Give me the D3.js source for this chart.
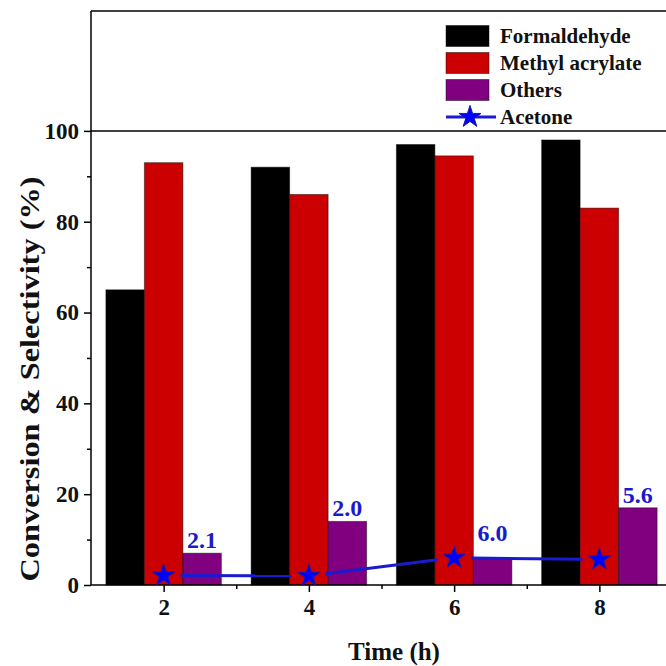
<!DOCTYPE html>
<html lang="en">
<head>
    <meta charset="UTF-8">
    <title>Conversion & Selectivity</title>
    <style>
        body { margin: 0; background: #fff; }
        svg text { font-family: "Liberation Serif", "Times New Roman", serif; font-weight: bold; }
    </style>
</head>
<body>
    <div id="chart"></div>

    <script src="https://d3js.org/d3.v7.min.js"></script>
    <script type="text/javascript">
// data
const times = [2, 4, 6, 8];
const formaldehyde = [65, 92, 97, 98];
const methylAcrylate = [93, 86, 94.5, 83];
const others = [7, 14, 6, 17];
const acetone = [2.1, 2.0, 6.0, 5.6];
const acetoneLabels = ["2.1", "2.0", "6.0", "5.6"];
const seriesNames = ["Formaldehyde", "Methyl acrylate", "Others", "Acetone"];
const seriesColors = ["#000000", "#cc0000", "#800080", "#0000ff"];
const yTicks = [0, 20, 40, 60, 80, 100];
const yMinorTicks = [10, 30, 50, 70, 90];
const xMinorTicks = [3, 5, 7];

const W = 666, H = 666;
const plotLeft = 91, plotRight = 672, plotTop = 11, plotBottom = 585;

const svg = d3.select("#chart")
    .append("svg")
    .attr("width", W)
    .attr("height", H);

const x = d3.scaleLinear().domain([1, 9]).range([plotLeft, plotRight]);
const y = d3.scaleLinear().domain([0, 126.4]).range([plotBottom, plotTop]);

const barW = x(1.53) - x(1); // one bar width in px
const bars = [formaldehyde, methylAcrylate, others];

// bars
bars.forEach(function(vals, s) {
    svg.append("g").selectAll("rect")
        .data(vals)
        .enter()
        .append("rect")
        .attr("x", (d, i) => x(times[i]) + (s - 1.5) * barW)
        .attr("y", d => y(d))
        .attr("width", barW)
        .attr("height", d => y(0) - y(d))
        .attr("fill", seriesColors[s])
        .attr("stroke", "rgba(0,0,0,0.45)")
        .attr("stroke-width", 1);
});

// frame: top line and line at 100
svg.append("line")
    .attr("x1", plotLeft).attr("x2", W).attr("y1", plotTop).attr("y2", plotTop)
    .attr("stroke", "#000").attr("stroke-width", 1.5);
svg.append("line")
    .attr("x1", plotLeft).attr("x2", W).attr("y1", y(100)).attr("y2", y(100))
    .attr("stroke", "#000").attr("stroke-width", 1.5);

// axes
const yAxis = svg.append("g")
    .attr("transform", `translate(${plotLeft},0)`)
    .call(d3.axisLeft(y).tickValues(yTicks).tickSize(7).tickPadding(5));
const yMinor = svg.append("g")
    .attr("transform", `translate(${plotLeft},0)`)
    .call(d3.axisLeft(y).tickValues(yMinorTicks).tickSize(4).tickFormat(""));
yMinor.select(".domain").remove();

const xAxis = svg.append("g")
    .attr("transform", `translate(0,${plotBottom})`)
    .call(d3.axisBottom(x).tickValues(times).tickSize(7).tickPadding(7));
const xMinor = svg.append("g")
    .attr("transform", `translate(0,${plotBottom})`)
    .call(d3.axisBottom(x).tickValues(xMinorTicks).tickSize(4).tickFormat(""));
xMinor.select(".domain").remove();

yAxis.select(".domain").attr("d", `M0,${plotTop}V${plotBottom}`);
xAxis.select(".domain").attr("d", `M${plotLeft},0H${W}`);

svg.selectAll(".domain").attr("stroke", "#000").attr("stroke-width", 1.5);
svg.selectAll(".tick line").attr("stroke", "#000").attr("stroke-width", 1.5);
svg.selectAll(".tick text")
    .attr("font-size", 23)
    .attr("font-family", "Liberation Serif")
    .attr("font-weight", "bold")
    .attr("fill", "#111");

// acetone line with gaps around the stars
const gap = 17;
for (let i = 0; i < times.length - 1; i++) {
    const x1 = x(times[i]), y1 = y(acetone[i]);
    const x2 = x(times[i + 1]), y2 = y(acetone[i + 1]);
    const len = Math.hypot(x2 - x1, y2 - y1);
    const ux = (x2 - x1) / len, uy = (y2 - y1) / len;
    svg.append("line")
        .attr("x1", x1 + ux * gap).attr("y1", y1 + uy * gap)
        .attr("x2", x2 - ux * gap).attr("y2", y2 - uy * gap)
        .attr("stroke", "#1a1ad0")
        .attr("stroke-width", 3);
}

const star = d3.symbol().type(d3.symbolStar).size(150);
svg.append("g").selectAll("path")
    .data(acetone)
    .enter()
    .append("path")
    .attr("d", star)
    .attr("transform", (d, i) => `translate(${x(times[i])},${y(d)})`)
    .attr("fill", "#0000ff")
    .attr("stroke", "#1a1aa0")
    .attr("stroke-width", 1);

// acetone value labels above the purple bars
svg.append("g").selectAll("text")
    .data(acetoneLabels)
    .enter()
    .append("text")
    .attr("x", (d, i) => x(times[i]) + barW)
    .attr("y", (d, i) => Math.min(y(others[i]), y(acetone[i]) - 12) - 5)
    .attr("text-anchor", "middle")
    .attr("font-size", 24)
    .attr("fill", "#1a1acc")
    .text(d => d);

// axis titles
svg.append("text")
    .attr("x", 394)
    .attr("y", 660)
    .attr("text-anchor", "middle")
    .attr("font-size", 25)
    .attr("fill", "#111")
    .text("Time (h)");

svg.append("text")
    .attr("transform", "translate(39,379) rotate(-90)")
    .attr("text-anchor", "middle")
    .attr("font-size", 27)
    .attr("textLength", 405)
    .attr("lengthAdjust", "spacingAndGlyphs")
    .attr("fill", "#111")
    .text("Conversion & Selectivity (%)");

// legend
const legend = svg.append("g");
const rowY = [36, 63, 90, 117];
seriesNames.forEach(function(name, i) {
    if (i < 3) {
        legend.append("rect")
            .attr("x", 446).attr("y", rowY[i] - 10.5)
            .attr("width", 43).attr("height", 21)
            .attr("fill", seriesColors[i])
            .attr("stroke", "rgba(0,0,0,0.45)");
    } else {
        legend.append("line")
            .attr("x1", 446).attr("x2", 496)
            .attr("y1", rowY[i]).attr("y2", rowY[i])
            .attr("stroke", "#1a1ad0").attr("stroke-width", 3);
        legend.append("path")
            .attr("d", star)
            .attr("transform", `translate(470,${rowY[i]})`)
            .attr("fill", "#0000ff")
            .attr("stroke", "#1a1aa0");
    }
    legend.append("text")
        .attr("x", 500)
        .attr("y", rowY[i] + 7)
        .attr("font-size", 21)
        .attr("fill", "#111")
        .text(name);
});
    </script>
</body>
</html>
